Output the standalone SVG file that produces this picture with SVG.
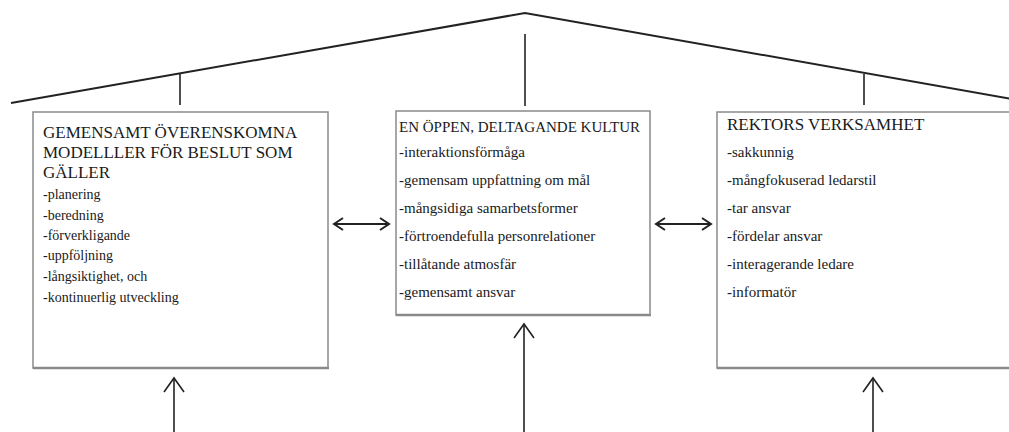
<svg xmlns="http://www.w3.org/2000/svg" width="1009" height="432" viewBox="0 0 1009 432">
<style>
.box{fill:#fff;stroke:#8a8a8a;stroke-width:1.5}
.base{stroke:#8a8a8a;stroke-width:2.5}
text{font-family:'Liberation Serif','Times New Roman',serif;fill:#1a1a1a}
.title{font-size:17px}
.title15{font-size:15px}
.item{font-size:15px}
.item14{font-size:14px}
.roof{fill:none;stroke:#222;stroke-width:2}
.post{stroke:#222;stroke-width:1.6}
.conn{fill:none;stroke:#222;stroke-width:2}
.up{fill:none;stroke:#222;stroke-width:1.6}
</style>
<defs>
<marker id="chev" markerUnits="userSpaceOnUse" markerWidth="14" markerHeight="16" viewBox="-11 -8 13 16" refX="0" refY="0" orient="auto-start-reverse">
<path d="M-9,-6 L0,0 L-9,6" fill="none" stroke="#222" stroke-width="2"/>
</marker>
<marker id="chevBig" markerUnits="userSpaceOnUse" markerWidth="18" markerHeight="26" viewBox="-16 -12 18 24" refX="0" refY="0" orient="auto">
<path d="M-14,-10 L0,0 L-14,10" fill="none" stroke="#222" stroke-width="1.6"/>
</marker>
</defs>
<g id="roof">
<polyline class="roof" points="11,103 525,13 1012,99"/>
<line class="post" x1="180" y1="74" x2="180" y2="105"/>
<line class="post" x1="525" y1="34" x2="525" y2="106"/>
<line class="post" x1="864" y1="74" x2="864" y2="105"/>
</g>
<g id="node-left">
<rect class="box" x="33" y="112" width="295" height="256"/>
<line class="base" x1="33" y1="368" x2="329" y2="368"/>
<text class="title" x="43" y="138">GEMENSAMT ÖVERENSKOMNA</text>
<text class="title" x="43" y="158">MODELLLER FÖR BESLUT SOM</text>
<text class="title" x="43" y="178">GÄLLER</text>
<text class="item14" x="43" y="199">-planering</text>
<text class="item14" x="43" y="220">-beredning</text>
<text class="item14" x="43" y="240">-förverkligande</text>
<text class="item14" x="43" y="260">-uppföljning</text>
<text class="item14" x="43" y="281">-långsiktighet, och</text>
<text class="item14" x="43" y="302">-kontinuerlig utveckling</text>
</g>
<g id="node-center">
<rect class="box" x="396" y="111" width="254" height="204"/>
<line class="base" x1="396" y1="315" x2="651" y2="315"/>
<text class="title15" x="399" y="132">EN ÖPPEN, DELTAGANDE KULTUR</text>
<text class="item" x="399" y="157">-interaktionsförmåga</text>
<text class="item" x="399" y="185">-gemensam uppfattning om mål</text>
<text class="item" x="399" y="213">-mångsidiga samarbetsformer</text>
<text class="item" x="399" y="241">-förtroendefulla personrelationer</text>
<text class="item" x="399" y="269">-tillåtande atmosfär</text>
<text class="item" x="399" y="297">-gemensamt ansvar</text>
</g>
<g id="node-right">
<rect class="box" x="717" y="112" width="320" height="256"/>
<line class="base" x1="717" y1="368" x2="1009" y2="368"/>
<text class="title" x="727" y="130">REKTORS VERKSAMHET</text>
<text class="item" x="727" y="157">-sakkunnig</text>
<text class="item" x="727" y="185">-mångfokuserad ledarstil</text>
<text class="item" x="727" y="213">-tar ansvar</text>
<text class="item" x="727" y="241">-fördelar ansvar</text>
<text class="item" x="727" y="269">-interagerande ledare</text>
<text class="item" x="727" y="297">-informatör</text>
</g>
<g id="connectors">
<path class="conn" d="M334,224 L389,224" marker-start="url(#chev)" marker-end="url(#chev)"/>
<path class="conn" d="M656,224 L711,224" marker-start="url(#chev)" marker-end="url(#chev)"/>
<path class="up" d="M174,433 L174,378" marker-end="url(#chevBig)"/>
<path class="up" d="M524,433 L524,324" marker-end="url(#chevBig)"/>
<path class="up" d="M873,433 L873,378" marker-end="url(#chevBig)"/>
</g>
</svg>
